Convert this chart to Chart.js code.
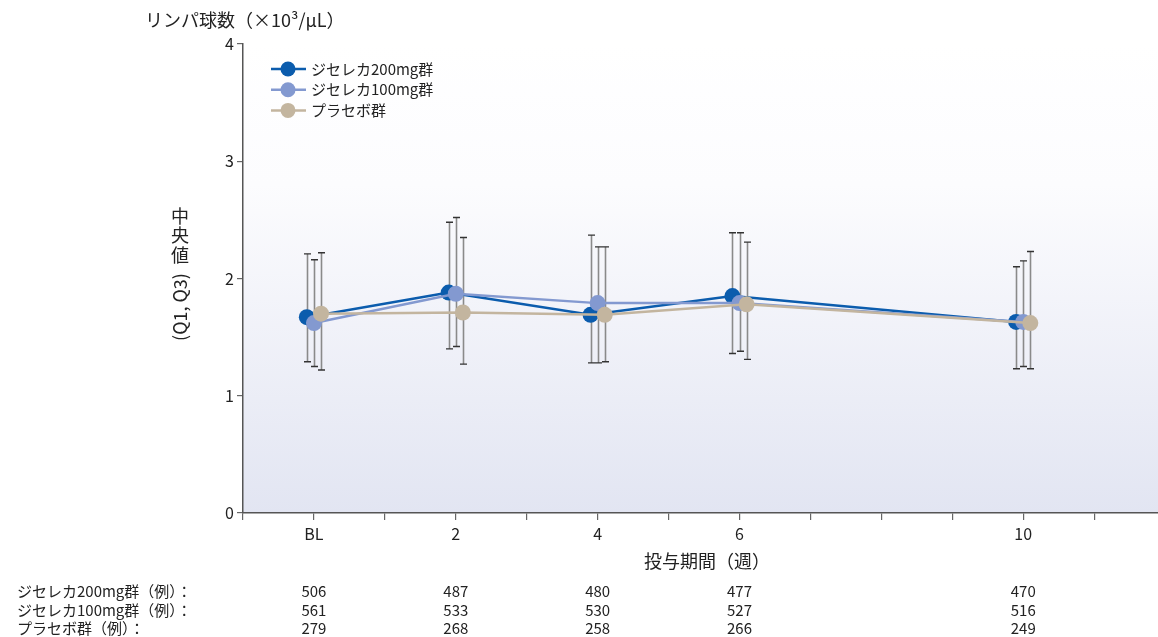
<!DOCTYPE html>
<html>
<head>
<meta charset="utf-8">
<script src="https://cdn.jsdelivr.net/npm/chart.js@4.4.0/dist/chart.umd.min.js"></script>
<style>html,body{margin:0;padding:0;background:#fff}</style>
</head>
<body>
<canvas id="c" width="1158" height="637"></canvas>
<script>
// data
const weeks = [0, 2, 4, 6, 10];
const weekLabels = ['BL', '2', '4', '6', '10'];
const groupNames = ['ジセレカ200mg群', 'ジセレカ100mg群', 'プラセボ群'];
const tableLabels = ['ジセレカ200mg群（例）：', 'ジセレカ100mg群（例）：', 'プラセボ群（例）：'];

const median200 = [1.67, 1.88, 1.69, 1.85, 1.63];
const q1_200 = [1.29, 1.40, 1.28, 1.36, 1.23];
const q3_200 = [2.21, 2.48, 2.37, 2.39, 2.10];

const median100 = [1.62, 1.87, 1.79, 1.79, 1.63];
const q1_100 = [1.25, 1.42, 1.28, 1.38, 1.25];
const q3_100 = [2.16, 2.52, 2.27, 2.39, 2.15];

const medianPbo = [1.70, 1.71, 1.69, 1.78, 1.62];
const q1_pbo = [1.22, 1.27, 1.29, 1.31, 1.23];
const q3_pbo = [2.22, 2.35, 2.27, 2.31, 2.23];

const n200 = [506, 487, 480, 477, 470];
const n100 = [561, 533, 530, 527, 516];
const nPbo = [279, 268, 258, 266, 249];

const FONT = '"Noto Sans CJK JP", "Noto Sans", sans-serif';
const TXT = '#222';
const colors = ['#0b5cad', '#8399d0', '#c3b59f'];
const shift = [-0.1, 0, 0.1];   // small dodge so the groups don't overlap
const tickWeeks = Array.from({length: 13}, (_, k) => k - 1);

const medians = [median200, median100, medianPbo];
const q1s = [q1_200, q1_100, q1_pbo];
const q3s = [q3_200, q3_100, q3_pbo];
const counts = [n200, n100, nPbo];

const bgPlugin = {
  id: 'bg',
  beforeDraw(chart) {
    const {ctx, chartArea: a} = chart;
    const g = ctx.createLinearGradient(0, a.top, 0, a.bottom);
    g.addColorStop(0, '#ffffff');
    g.addColorStop(0.3, '#fcfcfe');
    g.addColorStop(1, '#e2e5f2');
    ctx.save();
    ctx.fillStyle = g;
    ctx.fillRect(a.left, a.top, a.right - a.left, a.bottom - a.top);
    ctx.restore();
  }
};

const errorBars = {
  id: 'errorBars',
  beforeDatasetsDraw(chart) {
    const ctx = chart.ctx;
    const xs = chart.scales.x, ys = chart.scales.y;
    ctx.save();
    for (let i = 0; i < 3; i++) {
      weeks.forEach((w, j) => {
        const x = Math.round(xs.getPixelForValue(w + shift[i])) + 0.5;
        const yt = ys.getPixelForValue(q3s[i][j]);
        const yb = ys.getPixelForValue(q1s[i][j]);
        ctx.strokeStyle = '#8a8a8a';
        ctx.lineWidth = 1.6;
        ctx.beginPath(); ctx.moveTo(x, yt); ctx.lineTo(x, yb); ctx.stroke();
        ctx.strokeStyle = '#333';
        ctx.lineWidth = 1.4;
        ctx.beginPath();
        ctx.moveTo(x - 3.5, yt); ctx.lineTo(x + 3.5, yt);
        ctx.moveTo(x - 3.5, yb); ctx.lineTo(x + 3.5, yb);
        ctx.stroke();
      });
    }
    ctx.restore();
  }
};

const texts = {
  id: 'texts',
  afterDraw(chart) {
    const ctx = chart.ctx;
    const xs = chart.scales.x;
    ctx.save();
    ctx.fillStyle = TXT;
    ctx.textBaseline = 'middle';

    // y title on top
    ctx.font = '18px ' + FONT;
    ctx.textAlign = 'left';
    ctx.fillText('リンパ球数（×10³/μL）', 145, 20);

    // vertical y title
    ctx.textAlign = 'center';
    ['中', '央', '値'].forEach((ch, k) => ctx.fillText(ch, 180, 216 + k * 19.5));
    ctx.save();
    ctx.translate(180, 307);
    ctx.rotate(-Math.PI / 2);
    ctx.fillText('(Q1, Q3)', 0, 0);
    ctx.restore();

    // x title
    ctx.fillText('投与期間（週）', 707, 561);

    // legend
    ctx.textAlign = 'left';
    ctx.font = '15px ' + FONT;
    groupNames.forEach((name, i) => {
      const y = 69 + i * 20.7;
      ctx.strokeStyle = colors[i];
      ctx.lineWidth = 2.5;
      ctx.beginPath(); ctx.moveTo(271, y); ctx.lineTo(306, y); ctx.stroke();
      ctx.fillStyle = colors[i];
      ctx.beginPath(); ctx.arc(288, y, 7.5, 0, Math.PI * 2); ctx.fill();
      ctx.fillStyle = TXT;
      ctx.fillText(name, 311, y);
    });

    // patient counts
    tableLabels.forEach((lab, i) => {
      const y = 591 + i * 18.8;
      ctx.textAlign = 'left';
      ctx.fillText(lab, 17, y);
      ctx.textAlign = 'center';
      weeks.forEach((w, j) => ctx.fillText(String(counts[i][j]), xs.getPixelForValue(w), y));
    });
    ctx.restore();
  }
};

new Chart(document.getElementById('c'), {
  type: 'line',
  data: {
    datasets: groupNames.map((name, i) => ({
      label: name,
      data: weeks.map((w, j) => ({x: w + shift[i], y: medians[i][j]})),
      borderColor: colors[i],
      backgroundColor: colors[i],
      borderWidth: 2.5,
      pointRadius: 8,
      pointHoverRadius: 8,
      pointBorderWidth: 0,
      tension: 0,
      order: 2 - i
    }))
  },
  options: {
    responsive: false,
    animation: false,
    events: [],
    layout: {autoPadding: false, padding: {top: 44, left: 0, right: 0, bottom: 0}},
    plugins: {legend: {display: false}, tooltip: {enabled: false}},
    scales: {
      x: {
        type: 'linear',
        min: -1,
        max: 11.9,
        afterBuildTicks: s => { s.ticks = tickWeeks.map(v => ({value: v})); },
        afterFit: s => { s.height = 124; s.paddingLeft = 0; s.paddingRight = 0; },
        ticks: {
          autoSkip: false,
          maxRotation: 0,
          padding: 4,
          color: TXT,
          font: {family: FONT, size: 16},
          callback: v => { const k = weeks.indexOf(v); return k >= 0 ? weekLabels[k] : ''; }
        },
        grid: {drawOnChartArea: false, drawTicks: true, tickLength: 7, color: '#666', lineWidth: 1.2},
        border: {color: '#555', width: 1.5}
      },
      y: {
        min: 0,
        max: 4,
        afterFit: s => { s.width = 243; s.paddingTop = 0; s.paddingBottom = 0; },
        ticks: {stepSize: 1, padding: 3, color: TXT, font: {family: FONT, size: 16}},
        grid: {drawOnChartArea: false, drawTicks: true, tickLength: 6, color: '#666', lineWidth: 1.2},
        border: {color: '#555', width: 1.5}
      }
    }
  },
  plugins: [bgPlugin, errorBars, texts]
});
</script>
</body>
</html>
